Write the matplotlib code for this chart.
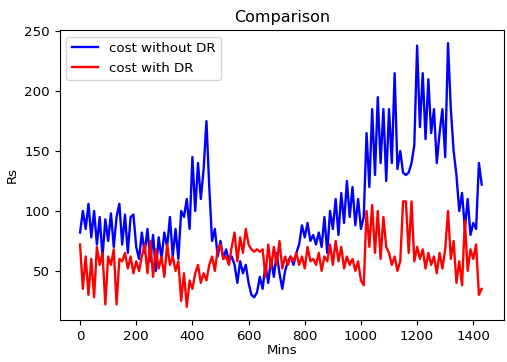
import numpy as np
import matplotlib
matplotlib.use('Agg')
import matplotlib.pyplot as plt

# values, one every 10 minutes
mins = np.arange(0, 1440, 10)

cost_without_dr = [
    82, 100, 85, 106, 78, 100, 72, 95, 62, 93,
    75, 98, 70, 95, 106, 72, 97, 65, 95, 97,
    70, 60, 82, 65, 85, 58, 80, 50, 78, 60,
    82, 70, 95, 62, 85, 60, 100, 95, 110, 85,
    145, 100, 140, 110, 135, 175, 120, 75, 85, 62,
    75, 60, 68, 58, 62, 55, 40, 58, 48, 55,
    40, 30, 28, 32, 45, 35, 55, 40, 60, 45,
    65, 48, 35, 50, 58, 62, 55, 65, 72, 88,
    78, 90, 75, 80, 72, 82, 70, 95, 65, 100,
    85, 110, 80, 115, 90, 125, 95, 120, 88, 110,
    85, 95, 165, 120, 185, 130, 195, 140, 185, 125,
    185, 140, 215, 135, 150, 132, 130, 132, 140, 155,
    238, 170, 215, 160, 210, 165, 185, 140, 165, 185,
    145, 240, 185, 150, 130, 100, 115, 85, 110, 80,
    90, 85, 140, 122,
]

cost_with_dr = [
    72, 35, 62, 30, 60, 28, 70, 55, 65, 22,
    62, 55, 68, 22, 60, 58, 65, 52, 62, 48,
    58, 50, 62, 72, 48, 75, 45, 68, 52, 62,
    45, 72, 55, 62, 50, 58, 25, 48, 20, 42,
    35, 48, 55, 40, 48, 42, 55, 62, 50, 68,
    72, 60, 62, 55, 70, 82, 58, 78, 65, 85,
    72, 68, 66, 68, 66, 68, 45, 72, 52, 70,
    55, 75, 52, 62, 55, 62, 58, 65, 55, 62,
    52, 70, 58, 60, 55, 65, 50, 62, 58, 72,
    55, 75, 58, 70, 52, 62, 55, 60, 50, 58,
    42, 38, 100, 70, 105, 65, 100, 60, 95, 70,
    65, 55, 62, 50, 58, 108, 108, 65, 108, 58,
    70, 60, 68, 52, 65, 55, 62, 48, 65, 52,
    68, 100, 60, 75, 40, 58, 38, 92, 50, 68,
    60, 72, 30, 35,
]

plt.rcParams['font.size'] = 9.6

fig, ax = plt.subplots(figsize=(5.07, 3.62), dpi=100)
fig.subplots_adjust(left=0.118, right=0.995, top=0.917, bottom=0.116)

ax.plot(mins, cost_without_dr, color='b', linewidth=1.7, label='cost without DR')
ax.plot(mins, cost_with_dr, color='r', linewidth=1.7, label='cost with DR')

ax.set_title('Comparison')
ax.set_xlabel('Mins', labelpad=1)
ax.set_ylabel('Rs')
ax.set_xticks([0, 200, 400, 600, 800, 1000, 1200, 1400])
ax.set_yticks([50, 100, 150, 200, 250])
ax.set_xlim(-72, 1511)
ax.set_ylim(9, 251)
ax.legend(loc='upper left')

plt.savefig('out.png', dpi=100)
